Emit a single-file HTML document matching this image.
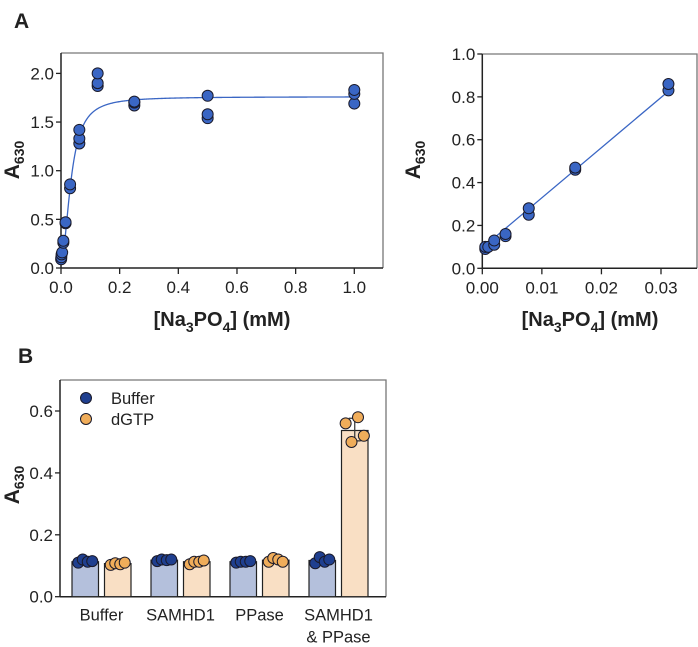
<!DOCTYPE html>
<html><head><meta charset="utf-8"><style>
body{margin:0;background:#fff}
svg{display:block;font-family:"Liberation Sans",Arial,sans-serif}
</style></head><body>
<svg id="s" width="698" height="647" xmlns="http://www.w3.org/2000/svg">
<text x="14" y="28" font-size="21" font-weight="bold" fill="#222">A</text>
<text x="18" y="363" font-size="21" font-weight="bold" fill="#222">B</text>
<g id="g1"></g>
<g id="g2"></g>
<g id="g3"></g>
</svg>
<script>
// Panel A left
const satX=[0.0005,0.001,0.002,0.004,0.008,0.008,0.0156,0.0156,0.031,0.031,0.0625,0.0625,0.0625,0.125,0.125,0.125,0.25,0.25,0.25,0.5,0.5,0.5,1,1,1];
const satY=[0.09,0.11,0.14,0.16,0.26,0.28,0.46,0.47,0.82,0.86,1.28,1.33,1.42,1.87,1.90,2.0,1.67,1.70,1.71,1.54,1.58,1.77,1.69,1.79,1.83];
const satFit=[0.08,1.68,0.035,2]; // bottom, span, K, hill
const satXTicks=[0,0.2,0.4,0.6,0.8,1.0];
const satYTicks=[0,0.5,1.0,1.5,2.0];
// Panel A right
const linX=[0.0005,0.0005,0.001,0.002,0.002,0.0039,0.0039,0.0078,0.0078,0.0156,0.0156,0.03125,0.03125];
const linY=[0.09,0.10,0.10,0.11,0.13,0.15,0.16,0.25,0.28,0.46,0.47,0.83,0.86];
const linFit=[23.4,0.095]; // slope, intercept
const linXTicks=[0,0.01,0.02,0.03];
const linYTicks=[0,0.2,0.4,0.6,0.8,1.0];
// Panel B
const cats=["Buffer","SAMHD1","PPase","SAMHD1|& PPase"];
const bufMeans=[0.113,0.118,0.113,0.117];
const dgtpMeans=[0.107,0.113,0.118,0.537];
const bufPts=[[0.11,0.12,0.113,0.115],[0.115,0.12,0.118,0.12],[0.11,0.113,0.113,0.115],[0.108,0.128,0.113,0.12]];
const dgtpPts=[[0.103,0.108,0.105,0.11],[0.105,0.113,0.113,0.117],[0.113,0.125,0.12,0.113],[0.56,0.50,0.58,0.52]];
const bYTicks=[0,0.2,0.4,0.6];

const NS="http://www.w3.org/2000/svg";
function mk(p,t,a){const e=document.createElementNS(NS,t);for(const k in a)e.setAttribute(k,a[k]);p.appendChild(e);return e;}
function fmt(v,d){return v.toFixed(d);}
function frame(g,L,T,R,B){
  const f=mk(g,'path',{d:`M${L},${T}H${R}V${B}`,fill:'none',stroke:'#777','stroke-width':1.3});
  
  
  const xa=mk(g,'line',{x1:L,x2:R,y1:B,y2:B,stroke:'#222','stroke-width':1.5});
  
  
  const ya=mk(g,'line',{x1:L,x2:L,y1:T,y2:B,stroke:'#222','stroke-width':1.5});
  
  
}
function yTicks(g,L,ticks,sy,d){ticks.forEach(v=>{const y=sy(v);
  const l=mk(g,'line',{x1:L-5,x2:L,y1:y,y2:y,stroke:'#222','stroke-width':1.3});
  
  
  const t=mk(g,'text',{x:L-7,y:y+6,'text-anchor':'end','font-size':17,fill:'#222'});t.textContent=fmt(v,d);
  
  });}
function xTicks(g,B,ticks,sx,d){ticks.forEach(v=>{const x=sx(v);
  const l=mk(g,'line',{x1:x,x2:x,y1:B,y2:B+6,stroke:'#222','stroke-width':1.3});
  
  
  const t=mk(g,'text',{x:x,y:B+25,'text-anchor':'middle','font-size':17,fill:'#222'});t.textContent=fmt(v,d);
  
  });}
function yTitle(g,x,y){const t=mk(g,'text',{transform:`translate(${x},${y}) rotate(-90)`,'text-anchor':'middle','font-size':21,'font-weight':'bold',fill:'#222'});
  t.innerHTML='A<tspan font-size="14" dy="5">630</tspan>';
  
  }
function xTitle(g,x,y){const t=mk(g,'text',{x:x,y:y,'text-anchor':'middle','font-size':20,'font-weight':'bold',fill:'#222'});
  t.innerHTML='[Na<tspan font-size="14" dy="6">3</tspan><tspan dy="-6">PO</tspan><tspan font-size="14" dy="6">4</tspan><tspan dy="-6">] (mM)</tspan>';
  
  }
function dot(g,x,y,fill,name){const c=mk(g,'circle',{cx:x,cy:y,r:5.5,fill:fill,stroke:'#1a1a2a','stroke-width':1});
  
  }

// Chart 1
(function(){const g=document.getElementById('g1');const L=61,R=383,T=53,B=268;
 const sx=v=>L+v*(354.3-61),sy=v=>B-v*97.3;
 frame(g,L,T,R,B);yTicks(g,L,satYTicks,sy,1);xTicks(g,B,satXTicks,sx,1);
 let d='';for(let i=0;i<=400;i++){const x=Math.pow(i/400,2)*1.0;const [b,s,K,h]=satFit;const y=b+s*Math.pow(x,h)/(Math.pow(K,h)+Math.pow(x,h));d+=(i?'L':'M')+sx(x).toFixed(2)+','+sy(y).toFixed(2);}
 const p=mk(g,'path',{d:d,fill:'none',stroke:'#3a66c4','stroke-width':1.3});
 
 
 satX.forEach((x,i)=>dot(g,sx(x),sy(satY[i]),'#3a66c4','data-point'));
 yTitle(g,19,160);xTitle(g,222,326);})();

// Chart 2
(function(){const g=document.getElementById('g2');const L=482.3,R=697,T=54,B=268.3;
 const sx=v=>L+v*(661-482.3)/0.03,sy=v=>B-v*(268.3-54);
 frame(g,L,T,R,B);yTicks(g,L,linYTicks,sy,1);xTicks(g,B,linXTicks,sx,2);
 const x0=0.0005,x1=0.03125;
 const p=mk(g,'line',{x1:sx(x0),y1:sy(linFit[1]+linFit[0]*x0),x2:sx(x1),y2:sy(linFit[1]+linFit[0]*x1),stroke:'#3a66c4','stroke-width':1.3});
 
 
 linX.forEach((x,i)=>dot(g,sx(x),sy(linY[i]),'#3a66c4','data-point'));
 yTitle(g,420,160);xTitle(g,590,326);})();

// Chart 3
(function(){const g=document.getElementById('g3');const L=60,R=386,T=380,B=596.7;
 const sy=v=>B-v*(596.7-411)/0.6;
 frame(g,L,T,R,B);yTicks(g,L,bYTicks,sy,1);
 const bw=26.5;const jit=[-7,-2.5,2.5,7];
 cats.forEach((c,i)=>{const cx=(L+0)+41.5+i*79;const bx=cx-29.5,ox=cx+3;
  [[bx,bufMeans[i],bufPts[i],'#b4c0dc','#1f3f8f','buffer'],[ox,dgtpMeans[i],dgtpPts[i],'#f9dfc4','#f0ad5a','dgtp']].forEach(([x,m,pts,fc,pc,nm])=>{
   const r=mk(g,'rect',{x:x,y:sy(m),width:bw,height:B-sy(m),fill:fc,stroke:'#222','stroke-width':1.2});
   
   
   const mc=x+bw/2;const mean=pts.reduce((a,b)=>a+b,0)/pts.length;const sd=Math.sqrt(pts.reduce((a,b)=>a+(b-mean)**2,0)/(pts.length-1));
   const e=mk(g,'path',{d:`M${mc},${sy(mean-sd)}V${sy(mean+sd)}M${mc-6},${sy(mean-sd)}H${mc+6}M${mc-6},${sy(mean+sd)}H${mc+6}`,stroke:'#333','stroke-width':1.2,fill:'none'});
   
   
   pts.forEach((v,j)=>dot(g,mc+jit[j]*(i==3&&nm=='dgtp'?1.3:1),sy(v),pc,'point-'+nm));
  });
  const lines=c.split('|');lines.forEach((ln,k)=>{const t=mk(g,'text',{x:cx,y:B+24+k*22,'text-anchor':'middle','font-size':16.5,fill:'#222'});t.textContent=ln;
   
   });
 });
 yTitle(g,19,485);
 [['Buffer','#1f3f8f',398],['dGTP','#f0ad5a',419]].forEach(([n,c,y])=>{dot(g,86,y,c,'legend-marker');
  const t=mk(g,'text',{x:111,y:y+6,'font-size':16.5,fill:'#222'});t.textContent=n;
  
  });
})();
</script>
</body></html>
